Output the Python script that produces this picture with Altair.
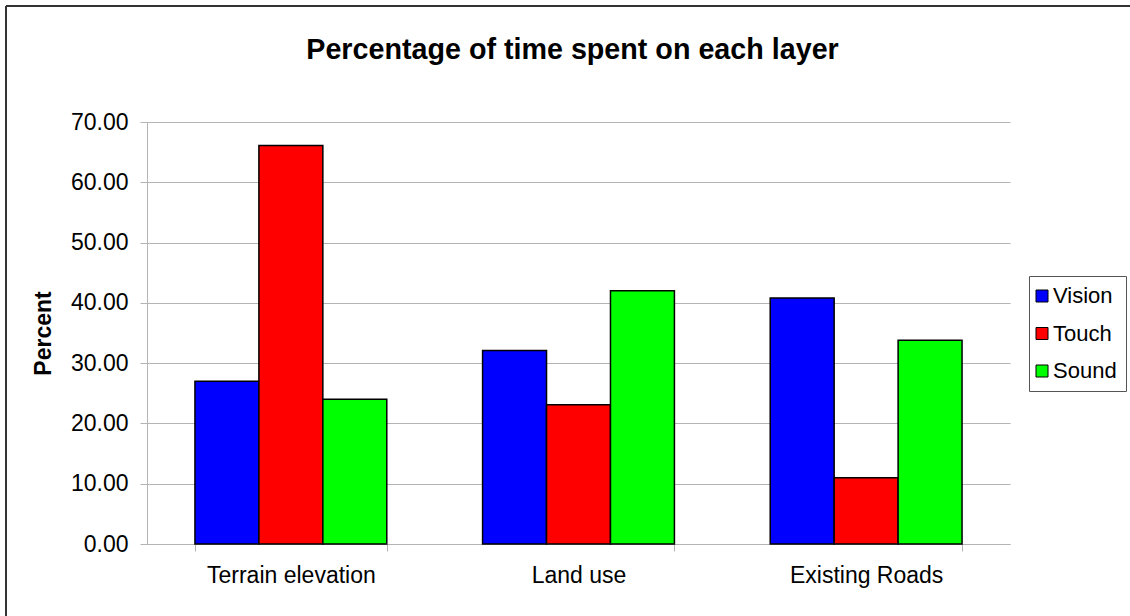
import altair as alt
import pandas as pd

# Layers shown on the x axis, and the three sensory modes
layers = ["Terrain elevation", "Land use", "Existing Roads"]
modes = ["Vision", "Touch", "Sound"]
mode_colors = ["#0000FF", "#FF0000", "#00FF00"]

# Percentage of time per layer, one list per mode
vision = [27.0, 32.1, 40.8]
touch = [66.1, 23.1, 11.0]
sound = [24.0, 42.0, 33.8]

rows = []
for mode, series in zip(modes, [vision, touch, sound]):
    for layer, value in zip(layers, series):
        rows.append({"Layer": layer, "Mode": mode, "Percent": value})
df = pd.DataFrame(rows)

FONT = "Liberation Sans"

bars = alt.Chart(df).mark_bar(stroke="#000000", strokeWidth=1.5).encode(
    x=alt.X(
        "Layer:N",
        sort=layers,
        title=None,
        scale=alt.Scale(paddingInner=0.333, paddingOuter=0.1667),
        axis=alt.Axis(
            labelAngle=0,
            labelFontSize=23,
            labelPadding=13,
            labelColor="#000000",
            tickBand="extent",
            tickSize=7,
            tickColor="#b4b4b4",
            domainColor="#b4b4b4",
            grid=False,
        ),
    ),
    xOffset=alt.XOffset("Mode:N", sort=modes, scale=alt.Scale(paddingInner=0, paddingOuter=0)),
    y=alt.Y(
        "Percent:Q",
        title="Percent",
        scale=alt.Scale(domain=[0, 70], nice=False),
        axis=alt.Axis(
            values=[0, 10, 20, 30, 40, 50, 60, 70],
            format=".2f",
            labelFontSize=23,
            labelPadding=12,
            labelColor="#000000",
            tickSize=7,
            tickColor="#b4b4b4",
            domainColor="#b4b4b4",
            gridColor="#b4b4b4",
            titleFontSize=23,
            titleFontWeight="bold",
            titlePadding=15,
            titleColor="#000000",
        ),
    ),
    fill=alt.Fill(
        "Mode:N",
        sort=modes,
        scale=alt.Scale(domain=modes, range=mode_colors),
        legend=alt.Legend(
            title=None,
            orient="none",
            legendX=882,
            legendY=154,
            symbolType="square",
            symbolSize=144,
            symbolStrokeColor="#000000",
            symbolStrokeWidth=1,
            symbolOffset=-7,
            labelFontSize=22,
            labelColor="#000000",
            labelOffset=0,
            rowPadding=15.5,
            padding=9,
            strokeColor="#555555",
            fillColor="#ffffff",
        ),
    ),
)

# Thin frame along the chart's left and top edges
frame_src = pd.DataFrame({"k": [0]})
left_edge = alt.Chart(frame_src).mark_rule(color="#333333", strokeWidth=2).encode(
    x=alt.value(-141), y=alt.value(-116), y2=alt.value(500)
)
top_edge = alt.Chart(frame_src).mark_rule(color="#333333", strokeWidth=2).encode(
    x=alt.value(-141), x2=alt.value(990), y=alt.value(-116)
)

chart = (
    alt.layer(bars, left_edge, top_edge)
    .properties(
        width=863,
        height=422,
        autosize=alt.AutoSizeParams(type="none"),
        padding={"left": 147, "top": 122, "right": 120, "bottom": 72},
        background="#ffffff",
        title=alt.TitleParams(
            "Percentage of time spent on each layer",
            fontSize=28.7,
            fontWeight="bold",
            font=FONT,
            color="#000000",
            offset=0,
            dy=60,
            dx=-6,
        ),
    )
    .configure(font=FONT)
    .configure_view(stroke=None)
)

chart.save("out.html", embed_options={"renderer": "svg", "actions": False})
